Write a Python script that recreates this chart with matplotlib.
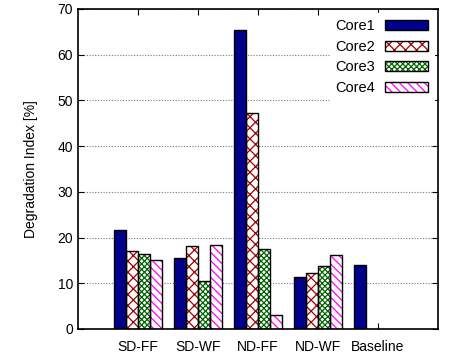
import numpy as np
import matplotlib
matplotlib.use("Agg")
import matplotlib.pyplot as plt
from matplotlib.patches import Patch

plt.rcParams['font.family'] = ['Liberation Sans', 'DejaVu Sans']
plt.rcParams['hatch.linewidth'] = 0.9

categories = ["SD-FF", "SD-WF", "ND-FF", "ND-WF", "Baseline"]
series = ["Core1", "Core2", "Core3", "Core4"]
core1 = [21.6, 15.5, 65.4, 11.4, 13.9]
core2 = [17.0, 18.1, 47.2, 12.2, 0]
core3 = [16.4, 10.6, 17.4, 13.7, 0]
core4 = [15.2, 18.3, 3.1, 16.1, 0]
values = [core1, core2, core3, core4]

# (face, hatch, hatch colour)
styles = [
    ("#00008b", None, "#00008b"),
    ("white", "xxx", "#a00000"),
    ("white", "xxxxxx", "#006400"),
    ("white", "\\\\\\\\", "#ff00ff"),
]

fig = plt.figure(figsize=(4.55, 3.61), dpi=100)
ax = fig.add_axes([78 / 455, 32 / 361, 360 / 455, 320 / 361])

x = np.arange(len(categories))
w = 0.2
offsets = np.array([-1.5, -0.5, 0.5, 1.5]) * w

for i, vals in enumerate(values):
    face, hatch, hcol = styles[i]
    vals = np.array(vals)
    mask = vals > 0
    # hatch layer
    ax.bar(x[mask] + offsets[i], vals[mask], w, color=face, hatch=hatch,
           edgecolor=hcol, linewidth=0, zorder=2)
    # outline layer
    ax.bar(x[mask] + offsets[i], vals[mask], w, fill=False,
           edgecolor="black", linewidth=1.0, zorder=3)

ax.set_xlim(-1, 5)
ax.set_ylim(0, 70)
ax.set_xticks(x)
ax.set_xticklabels(categories, fontsize=10)
ax.set_yticks(np.arange(0, 71, 10))
ax.tick_params(axis="both", direction="in", top=True, right=True,
               labelsize=10, length=4, width=0.8)
ax.tick_params(axis="x", pad=8)
ax.yaxis.grid(True, linestyle=(0, (1, 1.5)), color="#777777", linewidth=0.8)
ax.set_axisbelow(True)
for sp in ax.spines.values():
    sp.set_linewidth(1.2)
ax.set_ylabel("Degradation Index [%]", fontsize=10, labelpad=14)

handles = []
for i, name in enumerate(series):
    face, hatch, hcol = styles[i]
    fill = Patch(facecolor=face, hatch=hatch, edgecolor=hcol, linewidth=0)
    edge = Patch(fill=False, edgecolor="black", linewidth=1.0)
    handles.append((fill, edge))
leg = ax.legend(handles=handles, labels=series, loc="upper right",
                markerfirst=False, fontsize=10.5, frameon=True,
                fancybox=False, framealpha=1,
                handlelength=2.9, handleheight=0.65, labelspacing=0.45,
                borderaxespad=0.3, handletextpad=0.7)
leg.get_frame().set_edgecolor("white")

fig.savefig("out.png", dpi=100)
